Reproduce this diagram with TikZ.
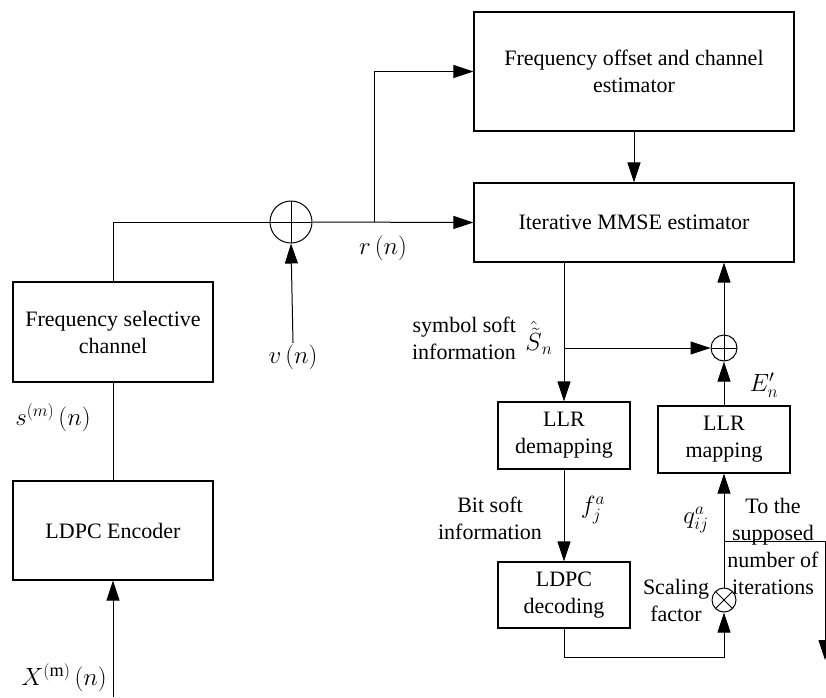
\documentclass[tikz,border=0pt]{standalone}
\usepackage{fontspec}
\setmainfont{Liberation Serif}
\usetikzlibrary{arrows.meta}
\tikzset{
  blk/.style={draw, line width=1.1pt, inner sep=0pt, align=center},
  lbl/.style={inner sep=1pt, align=center},
  mlbl/.style={inner sep=1pt, font=\fontsize{26}{30}\selectfont},
  arr/.style={line width=1pt, -{Triangle[length=20pt,width=13pt]}},
  sumnode/.style={circle, draw, line width=1pt, inner sep=0pt, minimum size=#1,
    path picture={\draw[line width=1pt] (path picture bounding box.north) -- (path picture bounding box.south)
      (path picture bounding box.west) -- (path picture bounding box.east);}},
  multnode/.style={circle, draw, line width=1pt, inner sep=0pt, minimum size=#1,
    path picture={\draw[line width=1pt] (path picture bounding box.north west) -- (path picture bounding box.south east)
      (path picture bounding box.south west) -- (path picture bounding box.north east);}},
}
\begin{document}
\begin{tikzpicture}[x=1pt,y=-1pt,line width=1pt,font=\fontsize{22}{27}\selectfont]
\useasboundingbox (0,0) rectangle (826,697);
% blocks
\node[blk, minimum width=320pt, minimum height=119pt] (est) at (634,71.5) {Frequency offset and channel\\estimator};
\node[blk, minimum width=320pt, minimum height=79pt] (mmse) at (634,222.5) {Iterative MMSE estimator};
\node[blk, minimum width=200pt, minimum height=100pt] (chan) at (113,332) {Frequency selective\\channel};
\node[blk, minimum width=200pt, minimum height=99pt] (enc) at (113,530.5) {LDPC Encoder};
\node[blk, minimum width=132pt, minimum height=67pt] (demap) at (564,435.5) {LLR\\demapping};
\node[blk, minimum width=132pt, minimum height=67pt] (map) at (724,439.5) {LLR\\mapping};
\node[blk, minimum width=132pt, minimum height=66pt] (dec) at (564,595) {LDPC\\decoding};
\node[sumnode=42pt] (add) at (291,222) {};
\node[sumnode=26pt] (sum) at (724,348) {};
\node[multnode=24pt] (mul) at (724,600) {};
% labels
\node[mlbl] (rlab) at (383,248) {$r\left(n\right)$};
\node[mlbl, anchor=north] (v) at (293,343) {$v\left(n\right)$};
\node[mlbl] (slab) at (53,418) {$s^{(m)}\left(n\right)$};
\node[mlbl] (xlab) at (64,678) {$X^{(\mathrm{m})}\left(n\right)$};
\node[lbl, align=right] (symb) at (464,338) {symbol soft\\information};
\node[mlbl] (shat) at (539,338) {$\hat{\tilde{S}}_n$};
\node[lbl] (bit) at (490,518) {Bit soft\\information};
\node[mlbl] (flab) at (593,510) {$f_j^a$};
\node[mlbl] (qlab) at (696,520) {$q_{ij}^a$};
\node[lbl] (scal) at (676,600) {Scaling\\factor};
\node[mlbl] (elab) at (764,385) {$E'_n$};
\node[lbl] (iter) at (773,546) {To the\\supposed\\number of\\iterations};
% helper points
\coordinate (xin) at (113,697);
\coordinate (rsplit) at (374,222);
\coordinate (ssplit) at (564,348);
\coordinate (qsplit) at (724,541);
\coordinate (outp) at (825,660);
% connectors
\draw[arr] (xin) -- (enc.south);
\draw (enc.north) -- (chan.south);
\draw (chan.north) |- (add.west);
\draw[arr] (v.north) -- (add.south);
\draw[arr] (add.east) -- (mmse.west);
\draw[arr] (rsplit) |- (est.west);
\draw[arr] (est.south) -- (mmse.north);
\draw[arr] (mmse.south -| ssplit) -- (demap.north);
\draw[arr] (ssplit) -- (sum.west);
\draw[arr] (sum.north) -- (mmse.south -| sum);
\draw[arr] (map.north) -- (sum.south);
\draw[arr] (demap.south) -- (dec.north);
\draw[arr] (dec.south) |- (724,657) -- (mul.south);
\draw[arr] (mul.north) -- (map.south);
\draw[arr] (qsplit) -| (outp);
\end{tikzpicture}
\end{document}
